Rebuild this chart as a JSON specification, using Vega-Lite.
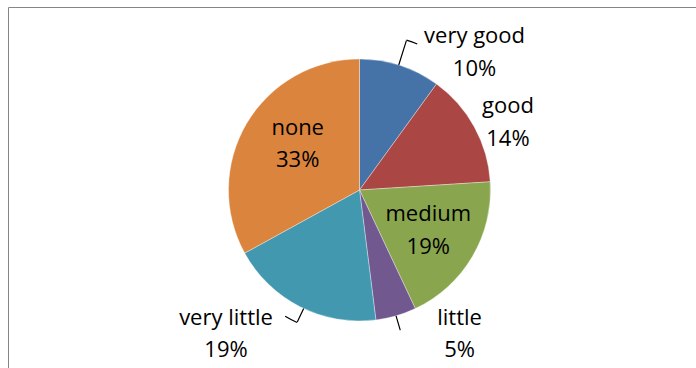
{
  "$schema": "https://vega.github.io/schema/vega-lite/v6.json",
  "width": 703,
  "height": 366,
  "autosize": "none",
  "padding": {"left": 8, "top": 7, "right": 0, "bottom": 0},
  "background": "white",
  "view": {"stroke": "#868686", "strokeWidth": 1, "fill": "white"},
  "data": {"values": [
    {"category": "very good", "share": 0.10},
    {"category": "good", "share": 0.14},
    {"category": "medium", "share": 0.19},
    {"category": "little", "share": 0.05},
    {"category": "very little", "share": 0.19},
    {"category": "none", "share": 0.33}
  ]},
  "transform": [{"window": [{"op": "row_number", "as": "idx"}]}],
  "encoding": {
    "theta": {"field": "share", "type": "quantitative", "stack": true},
    "order": {"field": "idx", "type": "quantitative"}
  },
  "layer": [
    {
      "mark": {"type": "arc", "radius": 131, "stroke": "#ffffff", "strokeWidth": 0.5, "strokeOpacity": 0.7},
      "encoding": {
        "color": {"field": "category", "type": "nominal", "legend": null,
          "scale": {"domain": ["very good", "good", "medium", "little", "very little", "none"],
                    "range": ["#4572A7", "#AA4643", "#89A54E", "#71588F", "#4198AF", "#DB843D"]}}
      }
    },
    {
      "mark": {"type": "arc", "radius": 156.5, "radius2": 131, "padAngle": 1.38, "thetaOffset": -0.01, "filled": false, "fill": null, "stroke": "black", "strokeWidth": 1.2},
      "encoding": {
        "detail": {"field": "category"},
        "strokeOpacity": {"condition": {"test": "datum.category === 'very good'", "value": 1}, "value": 0}
      }
    },
    {
      "mark": {"type": "arc", "radius": 157, "radius2": 157, "padAngle": 0.39, "thetaOffset": 0.0262, "filled": false, "fill": null, "stroke": "black", "strokeWidth": 1.2},
      "encoding": {
        "detail": {"field": "category"},
        "strokeOpacity": {"condition": {"test": "datum.category === 'very good'", "value": 1}, "value": 0}
      }
    },
    {
      "mark": {"type": "arc", "radius": 146, "radius2": 131, "padAngle": 1.38, "thetaOffset": -0.031, "filled": false, "fill": null, "stroke": "black", "strokeWidth": 1.2},
      "encoding": {
        "detail": {"field": "category"},
        "strokeOpacity": {"condition": {"test": "datum.category === 'very little'", "value": 1}, "value": 0}
      }
    },
    {
      "mark": {"type": "arc", "radius": 146.5, "radius2": 146.5, "padAngle": 0.7582, "thetaOffset": 0.0148, "filled": false, "fill": null, "stroke": "black", "strokeWidth": 1.2},
      "encoding": {
        "detail": {"field": "category"},
        "strokeOpacity": {"condition": {"test": "datum.category === 'very little'", "value": 1}, "value": 0}
      }
    },
    {
      "mark": {"type": "arc", "radius": 146, "radius2": 131, "padAngle": 1.38, "filled": false, "fill": null, "stroke": "black", "strokeWidth": 1.2},
      "encoding": {
        "detail": {"field": "category"},
        "strokeOpacity": {"condition": {"test": "datum.category === 'little'", "value": 1}, "value": 0}
      }
    },
    {
      "mark": {"type": "text", "radius": 173.9, "dx": 61.3, "dy": 18.6, "font": "Open Sans", "fontSize": 22, "baseline": "alphabetic", "align": "center", "fill": "black"},
      "encoding": {"detail": {"field": "category"}, "text": {"condition": {"test": "datum.category === 'very good'", "field": "category"}, "value": ""}}
    },
    {
      "mark": {"type": "text", "radius": 173.9, "dx": 61.3, "dy": 51.2, "font": "Open Sans", "fontSize": 22, "baseline": "alphabetic", "align": "center", "fill": "black"},
      "encoding": {"detail": {"field": "category"}, "text": {"condition": {"test": "datum.category === 'very good'", "field": "share", "format": ".0%"}, "value": ""}}
    },
    {
      "mark": {"type": "text", "radius": 160.4, "dx": 7.9, "dy": 0.5, "font": "Open Sans", "fontSize": 22, "baseline": "alphabetic", "align": "center", "fill": "black"},
      "encoding": {"detail": {"field": "category"}, "text": {"condition": {"test": "datum.category === 'good'", "field": "category"}, "value": ""}}
    },
    {
      "mark": {"type": "text", "radius": 160.4, "dx": 7.9, "dy": 33.1, "font": "Open Sans", "fontSize": 22, "baseline": "alphabetic", "align": "center", "fill": "black"},
      "encoding": {"detail": {"field": "category"}, "text": {"condition": {"test": "datum.category === 'good'", "field": "share", "format": ".0%"}, "value": ""}}
    },
    {
      "mark": {"type": "text", "radius": 83.6, "dx": -3.2, "dy": -11.4, "font": "Open Sans", "fontSize": 22, "baseline": "alphabetic", "align": "center", "fill": "black"},
      "encoding": {"detail": {"field": "category"}, "text": {"condition": {"test": "datum.category === 'medium'", "field": "category"}, "value": ""}}
    },
    {
      "mark": {"type": "text", "radius": 83.6, "dx": -3.2, "dy": 21.2, "font": "Open Sans", "fontSize": 22, "baseline": "alphabetic", "align": "center", "fill": "black"},
      "encoding": {"detail": {"field": "category"}, "text": {"condition": {"test": "datum.category === 'medium'", "field": "share", "format": ".0%"}, "value": ""}}
    },
    {
      "mark": {"type": "text", "radius": 181.1, "dx": 49.5, "dy": -39.2, "font": "Open Sans", "fontSize": 22, "baseline": "alphabetic", "align": "center", "fill": "black"},
      "encoding": {"detail": {"field": "category"}, "text": {"condition": {"test": "datum.category === 'little'", "field": "category"}, "value": ""}}
    },
    {
      "mark": {"type": "text", "radius": 181.1, "dx": 49.5, "dy": -6.6, "font": "Open Sans", "fontSize": 22, "baseline": "alphabetic", "align": "center", "fill": "black"},
      "encoding": {"detail": {"field": "category"}, "text": {"condition": {"test": "datum.category === 'little'", "field": "share", "format": ".0%"}, "value": ""}}
    },
    {
      "mark": {"type": "text", "radius": 201.5, "dx": -42, "dy": -44.8, "font": "Open Sans", "fontSize": 22, "baseline": "alphabetic", "align": "center", "fill": "black"},
      "encoding": {"detail": {"field": "category"}, "text": {"condition": {"test": "datum.category === 'very little'", "field": "category"}, "value": ""}}
    },
    {
      "mark": {"type": "text", "radius": 201.5, "dx": -42, "dy": -12.2, "font": "Open Sans", "fontSize": 22, "baseline": "alphabetic", "align": "center", "fill": "black"},
      "encoding": {"detail": {"field": "category"}, "text": {"condition": {"test": "datum.category === 'very little'", "field": "share", "format": ".0%"}, "value": ""}}
    },
    {
      "mark": {"type": "text", "radius": 73.1, "dx": 1.1, "dy": -18.1, "font": "Open Sans", "fontSize": 22, "baseline": "alphabetic", "align": "center", "fill": "black"},
      "encoding": {"detail": {"field": "category"}, "text": {"condition": {"test": "datum.category === 'none'", "field": "category"}, "value": ""}}
    },
    {
      "mark": {"type": "text", "radius": 73.1, "dx": 1.1, "dy": 14.5, "font": "Open Sans", "fontSize": 22, "baseline": "alphabetic", "align": "center", "fill": "black"},
      "encoding": {"detail": {"field": "category"}, "text": {"condition": {"test": "datum.category === 'none'", "field": "share", "format": ".0%"}, "value": ""}}
    }
  ]
}
